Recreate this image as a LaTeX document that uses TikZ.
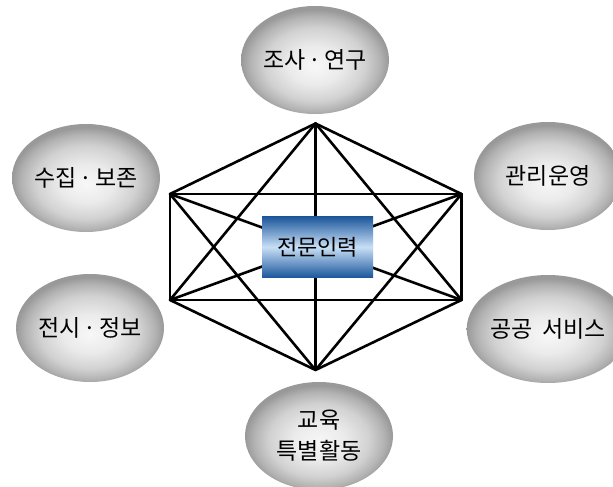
\documentclass[tikz,border=0pt]{standalone}
\usepackage{fontspec}
\newfontfamily\kr{Noto Sans CJK KR}
\usetikzlibrary{shapes.geometric}
\definecolor{boxdark}{HTML}{1C569C}
\definecolor{boxlight}{HTML}{C8E0F6}
\pgfdeclareradialshading{bubshade}{\pgfpoint{0bp}{-3bp}}{%
  color(0bp)=(white!97!black);
  color(9bp)=(white!92!black);
  color(17bp)=(white!82!black);
  color(22bp)=(white!70!black);
  color(25bp)=(white!60!black);
  color(50bp)=(white!60!black)}
\newcommand{\mdot}{\hspace{0.12em}·\hspace{0.12em}}
\tikzset{
  bubble/.style={ellipse, inner sep=0pt, minimum width=148pt, minimum height=108pt,
    shading=bubshade, font=\kr\fontsize{23}{31}\selectfont, align=center},
  link/.style={line width=2.6pt, black, line cap=round, line join=round},
  corebox/.style={rectangle, inner sep=0pt, minimum width=111pt, minimum height=61pt,
    top color=boxdark, bottom color=boxdark, middle color=boxlight,
    font=\kr\fontsize{22}{24}\selectfont}
}
\begin{document}
\begin{tikzpicture}[x=1pt,y=-1pt]
\useasboundingbox (0,0) rectangle (613,487);
\fill[white] (0,0) rectangle (613,487);
% hexagon vertices
\coordinate (t)  at (315.5,123.5);
\coordinate (ul) at (170,194);
\coordinate (ur) at (461.5,194);
\coordinate (ll) at (170,300);
\coordinate (lr) at (461.5,300);
\coordinate (b)  at (315.5,370);
% complete graph
\foreach \a/\bb in {t/ul,t/ur,t/ll,t/lr,t/b,ul/ur,ul/ll,ul/lr,ul/b,ur/ll,ur/lr,ur/b,ll/lr,ll/b,lr/b}
  \draw[link] (\a) -- (\bb);
% center box
\node[corebox] (core) at (317.5,247) {전문인력};
% outer bubbles
\node[bubble] (res)  at (315,60)  {조사\mdot 연구};
\node[bubble] (col)  at (86,178)  {수집\mdot 보존};
\node[bubble] (exh)  at (90,328)  {전시\mdot 정보};
\node[bubble] (man)  at (548,176) {관리운영};
\node[bubble] (pub)  at (548,329) {공공\hspace{0.4em}서비스};
\node[bubble] (edu)  at (319,436) {교육\\특별활동};
\end{tikzpicture}
\end{document}
